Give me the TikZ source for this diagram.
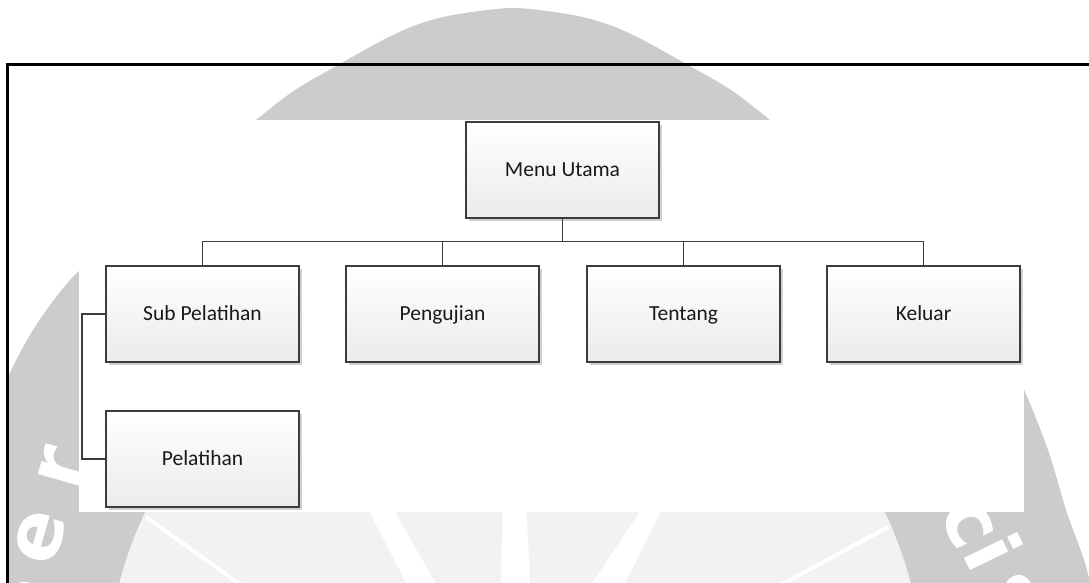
\documentclass[tikz,border=0pt]{standalone}
\usepackage{fontspec}
\setmainfont{Carlito}
\newfontfamily\wmfont{DejaVu Sans}
\usetikzlibrary{shadows}
\definecolor{wmdark}{HTML}{CCCCCC}
\definecolor{wmlight}{HTML}{F2F2F2}
\definecolor{boxline}{HTML}{3C3C3C}
\definecolor{boxbot}{HTML}{EBEBEB}
\tikzset{
 menubox/.style={draw=boxline, line width=1.9pt, top color=white, bottom color=boxbot,
   minimum width=193pt, minimum height=96pt, inner sep=0pt,
   text height=13.5pt, text depth=0pt,
   font=\fontsize{21.5}{24}\selectfont, text=black!90,
   drop shadow={shadow xshift=3pt, shadow yshift=-3pt, fill=black, opacity=0.18}},
 link/.style={draw=boxline, line width=1.9pt},
 wmletter/.style={text=white, font=\wmfont\bfseries\fontsize{78}{84}\selectfont, inner sep=0pt},
 ray/.style={fill=white},
}
\begin{document}
\begin{tikzpicture}[x=1pt,y=-1pt]
\useasboundingbox (0,0) rectangle (1089,582);
% watermark
\begin{scope}
\clip (7.5,-10) rectangle (1100,600);
\fill[wmdark] plot[smooth] coordinates {(-77,650) (-61,570) (-41,513) (-22,450) (4,385) (33,330) (70,280) (115,240) (163,200) (208,160) (256,120) (295,90) (338,65) (383,40) (416,25) (453,15) (513,8) (573,15) (610,25) (643,40) (688,65) (731,90) (770,120) (818,160) (863,200) (911,240) (956,280) (993,330) (1022,385) (1048,450) (1067,513) (1087,570) (1103,650)} -- cycle;
\fill[wmlight] (515,687) circle (409);
\fill[ray] (353,480) -- (377,480) -- (445,600) -- (415,600) -- cycle;
\fill[ray] (504,480) -- (525,480) -- (531,600) -- (500,600) -- cycle;
\fill[ray] (661,480) -- (676,480) -- (617,600) -- (581,600) -- cycle;
\draw[white, line width=4pt] (146,517) -- (262,600);
\draw[white, line width=4pt] (888,527) -- (753,600);
\node[wmletter, rotate=74] (wS) at (14,602) {S};
\node[wmletter, rotate=74] (we) at (40,537) {e};
\node[wmletter, rotate=74] (wr) at (62,468) {r};
\node[wmletter, rotate=-64] (wc) at (968,524) {c};
\node[wmletter, rotate=-64] (wi) at (994,552) {i};
\node[wmletter, rotate=-64] (ws) at (1014,598) {s};
\end{scope}
\fill[white] (79,120) rectangle (1024,512);
\draw[black, line width=3pt] (7.5,64) rectangle (1110,610);
% diagram
\node[menubox] (mu) at (562.5,170) {Menu Utama};
\node[menubox] (sp) at (202.5,314) {Sub Pelatihan};
\node[menubox] (pg) at (442.5,314) {Pengujian};
\node[menubox] (tt) at (683.5,314) {Tentang};
\node[menubox] (kl) at (923.5,314) {Keluar};
\node[menubox] (pl) at (202.5,459) {Pelatihan};
\coordinate (bus) at (562.5,241.5);
\coordinate (ex) at (82,0);
\draw[link] (mu.south) -- (bus);
\draw[link] (sp.north) |- (bus);
\draw[link] (kl.north) |- (bus);
\draw[link] (pg.north) -- (pg.north |- bus);
\draw[link] (tt.north) -- (tt.north |- bus);
\draw[link] (sp.west) -- (sp.west -| ex) |- (pl.west);
\end{tikzpicture}
\end{document}
